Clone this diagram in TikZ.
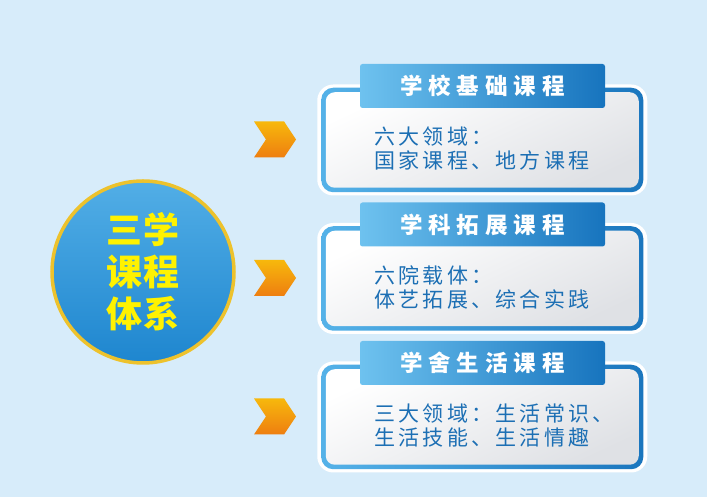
\documentclass[tikz,border=0pt]{standalone}
\usepackage{fontspec}
\setmainfont{Noto Sans CJK SC}
\usetikzlibrary{shapes.symbols}
\definecolor{bg}{HTML}{D7ECFA}
\definecolor{hubrim}{HTML}{EDC22C}
\definecolor{hubtop}{HTML}{52AEE6}
\definecolor{hubbot}{HTML}{1E86CF}
\definecolor{hubtext}{HTML}{FFF200}
\definecolor{chevtop}{HTML}{F7B80C}
\definecolor{chevbot}{HTML}{EE7E10}
\definecolor{rimL}{HTML}{55B2E8}
\definecolor{rimR}{HTML}{1A76BE}
\definecolor{boxgray}{HTML}{DFE1E5}
\definecolor{tabL}{HTML}{6EC2EF}
\definecolor{tabR}{HTML}{1774BE}
\definecolor{bodytext}{HTML}{1C6FB4}
\makeatletter
\def\spc#1#2{\def\spc@k{#1}\expandafter\spc@a#2\relax\relax}
\def\spc@a#1#2{#1\ifx#2\relax\else\kern\spc@k\expandafter\spc@a\expandafter#2\fi}
\makeatother
\tikzset{
  hub/.style={circle, minimum size=182pt, draw=hubrim, line width=3.5pt,
    top color=hubtop, bottom color=hubbot, inner sep=0pt, align=center,
    text=hubtext, font=\bfseries\fontsize{36}{42}\selectfont},
  chev/.style={signal, signal to=east, signal from=west, signal pointer angle=113,
    minimum width=42pt, minimum height=36pt, inner sep=0pt, draw=none,
    top color=chevtop, bottom color=chevbot},
  halo/.style={rectangle, rounded corners=16pt, fill=white, draw=none,
    minimum width=330pt, minimum height=111pt, inner sep=0pt},
  rim/.style={rectangle, rounded corners=12pt, draw=none, left color=rimL, right color=rimR,
    minimum width=322pt, minimum height=104.5pt, inner sep=0pt},
  inbox/.style={rectangle, rounded corners=9pt, draw=none, top color=white, bottom color=boxgray,
    shading angle=25, minimum width=313pt, minimum height=95.5pt, inner sep=0pt},
  tab/.style={rectangle, rounded corners=2.5pt, draw=none, left color=tabL, right color=tabR,
    minimum width=245pt, minimum height=44pt, inner sep=0pt, text=white,
    font=\bfseries\fontsize{22.5}{26}\selectfont},
  body/.style={anchor=west, inner sep=0pt, align=left, text=bodytext,
    font=\fontsize{21}{24}\selectfont}
}
\begin{document}
\begin{tikzpicture}[x=1pt,y=1pt]
\fill[bg] (0,0) rectangle (707,497);
\useasboundingbox (0,0) rectangle (707,497);
\node[hub] (hub) at (143,225) {\spc{1pt}{三学}\\\spc{1pt}{课程}\\\spc{1pt}{体系}};
\foreach \i/\y/\t/\a/\b in {1/357/学校基础课程/六大领域：/国家课程、地方课程,
  2/218.5/学科拓展课程/六院载体：/体艺拓展、综合实践,
  3/80/学舍生活课程/三大领域：生活常识、/生活技能、生活情趣}{
  \node[chev] (chev\i) at (275,\y+0.5) {};
  \node[halo] (halo\i) at (482.25,\y) {};
  \node[rim] (rim\i) at (halo\i.center) {};
  \node[inbox] (box\i) at (halo\i.center) {};
  \node[tab] (tab\i) at (482.5,\y+54) {\spc{6pt}{\t}};
  \node[body] (body\i) at (374,\y-9) {\spc{3.3pt}{\a}\\\spc{3.3pt}{\b}};
}
\end{tikzpicture}
\end{document}
